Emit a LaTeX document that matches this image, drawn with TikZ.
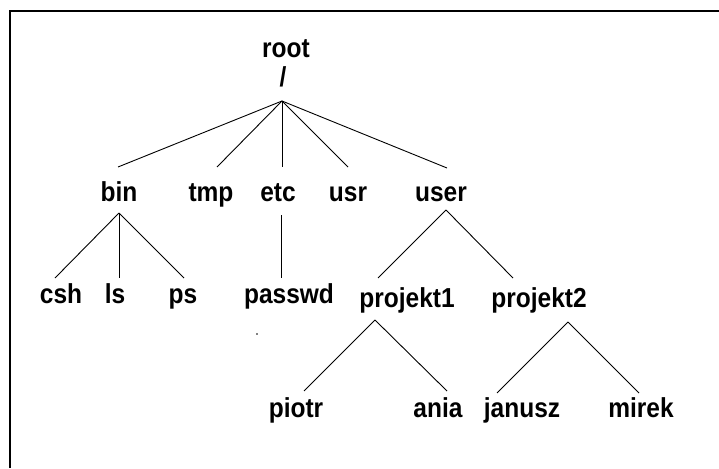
\documentclass[tikz,border=0pt]{standalone}
\usepackage{fontspec}
\setmainfont{Liberation Sans}
\newcommand{\tallbox}[1]{\scalebox{1}[1.12]{#1}}
\begin{document}
\begin{tikzpicture}[x=1pt,y=-1pt,
  lbl/.style={anchor=base,inner sep=0pt,font=\fontsize{24.5}{29}\selectfont\bfseries,text=black},
  branch/.style={draw=black,line width=0.9pt},
  frameline/.style={draw=black,line width=2pt}]
\useasboundingbox (0,0) rectangle (719,468);
\fill[white] (0,0) rectangle (719,468);
% partial frame (left and top)
\draw[frameline] (10,468) -- (10,11) -- (719,11);

% labels
\node[lbl] (root) at (286,58) {\tallbox{root}};
\node[lbl] (slash) at (283,87) {\tallbox{/}};
\node[lbl] (bin) at (119,201) {\tallbox{bin}};
\node[lbl] (tmp) at (211,201) {\tallbox{tmp}};
\node[lbl] (etc) at (278,201) {\tallbox{etc}};
\node[lbl] (usr) at (348,201) {\tallbox{usr}};
\node[lbl] (user) at (441,201) {\tallbox{user}};
\node[lbl] (csh) at (61,303) {\tallbox{csh}};
\node[lbl] (ls) at (115,303) {\tallbox{ls}};
\node[lbl] (ps) at (183,303) {\tallbox{ps}};
\node[lbl] (passwd) at (289,303) {\tallbox{passwd}};
\node[lbl] (projekt1) at (407,307) {\tallbox{projekt1}};
\node[lbl] (projekt2) at (539,307) {\tallbox{projekt2}};
\node[lbl] (piotr) at (296,417) {\tallbox{piotr}};
\node[lbl] (ania) at (438,417) {\tallbox{ania}};
\node[lbl] (janusz) at (522,417) {\tallbox{janusz}};
\node[lbl] (mirek) at (641,417) {\tallbox{mirek}};

% connector end points
\coordinate (root-out) at (282,101);
\coordinate (bin-in) at (118,167);
\coordinate (tmp-in) at (217,167);
\coordinate (etc-in) at (282,167);
\coordinate (usr-in) at (348,167);
\coordinate (user-in) at (447,168);
\coordinate (bin-out) at (119,213);
\coordinate (csh-in) at (55,278);
\coordinate (ls-in) at (119,278);
\coordinate (ps-in) at (184,278);
\coordinate (etc-out) at (281,215);
\coordinate (passwd-in) at (281,278);
\coordinate (user-out) at (446,210);
\coordinate (projekt1-in) at (378,278);
\coordinate (projekt2-in) at (513,278);
\coordinate (projekt1-out) at (375,320);
\coordinate (piotr-in) at (304,391);
\coordinate (ania-in) at (447,391);
\coordinate (projekt2-out) at (568,322);
\coordinate (janusz-in) at (497,393);
\coordinate (mirek-in) at (639,393);

% connectors
\foreach \c in {bin,tmp,etc,usr,user}
  \draw[branch] (root-out) -- (\c-in);
\foreach \c in {csh,ls,ps}
  \draw[branch] (bin-out) -- (\c-in);
\draw[branch] (etc-out) -- (passwd-in);
\foreach \c in {projekt1,projekt2}
  \draw[branch] (user-out) -- (\c-in);
\foreach \c in {piotr,ania}
  \draw[branch] (projekt1-out) -- (\c-in);
\foreach \c in {janusz,mirek}
  \draw[branch] (projekt2-out) -- (\c-in);

% stray dot
\fill[black] (257,334) circle (0.9);
\end{tikzpicture}
\end{document}
